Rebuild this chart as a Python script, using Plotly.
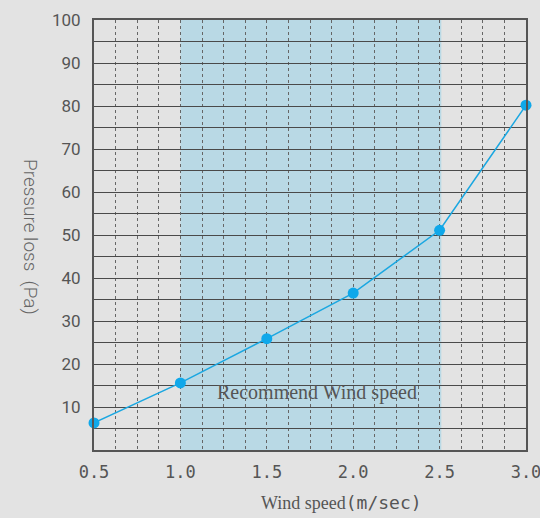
import plotly.graph_objects as go

wind_speed = [0.5, 1.0, 1.5, 2.0, 2.5, 3.0]
pressure_loss = [6.3, 15.6, 25.9, 36.5, 51.1, 80.2]
x_tick_vals = [0.5, 1.0, 1.5, 2.0, 2.5, 3.0]
x_tick_text = ["0.5", "1.0", "1.5", "2.0", "2.5", "3.0"]
y_tick_vals = [10, 20, 30, 40, 50, 60, 70, 80, 90, 100]
recommend_range = [1.0, 2.51]

GRAY = "#555555"
BG = "#e3e3e3"
SERIF = "Liberation Serif, DejaVu Serif, serif"

W, H = 540, 518
L, R, T, B = 94, 14, 20, 68
pw, ph = W - L - R, H - T - B


def px_x(px):
    return (px - L) / pw


def px_y(py):
    return (H - B - py) / ph


fig = go.Figure()
fig.add_trace(go.Scatter(
    x=wind_speed, y=pressure_loss, mode="lines+markers",
    line=dict(color="#1aa7e1", width=1.5),
    marker=dict(color="#0fa8ea", size=11),
    cliponaxis=False, showlegend=False, hoverinfo="skip",
))

fig.add_shape(type="rect", xref="x", yref="y",
              x0=recommend_range[0], x1=recommend_range[1], y0=0, y1=100,
              fillcolor="#b9d9e5", line=dict(width=0), layer="below")

fig.add_annotation(x=1.79, y=13.3, xref="x", yref="y", text="Recommend Wind speed",
                   showarrow=False, xanchor="center", yanchor="middle",
                   font=dict(family=SERIF, size=20, color=GRAY))

fig.add_annotation(x=px_x(341), y=px_y(502), xref="paper", yref="paper", showarrow=False,
                   xanchor="center", yanchor="middle",
                   text='Wind speed<span style="font-family:DejaVu Sans Mono">(m/sec)</span>',
                   font=dict(family=SERIF, size=18, color=GRAY))

fig.add_annotation(x=px_x(31), y=px_y(237), xref="paper", yref="paper", showarrow=False,
                   xanchor="center", yanchor="middle", textangle=90,
                   text='Pressure loss  (Pa)',
                   font=dict(family="Roboto", size=19, color="#666666", weight=300))

fig.update_layout(
    width=W, height=H,
    margin=dict(l=L, r=R, t=T, b=B, autoexpand=False),
    paper_bgcolor=BG, plot_bgcolor=BG,
    xaxis=dict(
        range=[0.5, 3.0], tickvals=x_tick_vals, ticktext=x_tick_text,
        tickfont=dict(family="DejaVu Sans Mono", size=17, color=GRAY),
        ticklabeloverflow="allow", automargin=False,
        showgrid=True, gridcolor="#666666", griddash="dot", gridwidth=1,
        minor=dict(dtick=0.125, tick0=0.5, showgrid=True, gridcolor="#666666",
                   griddash="dot", gridwidth=1),
        showline=True, mirror=True, linecolor=GRAY, linewidth=2,
        ticks="", zeroline=False, ticklabelstandoff=6,
    ),
    yaxis=dict(
        range=[0, 100], tickvals=y_tick_vals, automargin=False,
        tickfont=dict(family="Roboto", size=17, color=GRAY),
        showgrid=True, gridcolor="#4a4a4a", gridwidth=1,
        minor=dict(dtick=5, tick0=0, showgrid=True, gridcolor="#4a4a4a", gridwidth=1),
        showline=True, mirror=True, linecolor=GRAY, linewidth=2,
        ticks="", zeroline=False, ticklabelstandoff=8,
    ),
)

fig.write_html("out.html", config={"displayModeBar": False},
               post_script="document.body.style.margin='0';")
